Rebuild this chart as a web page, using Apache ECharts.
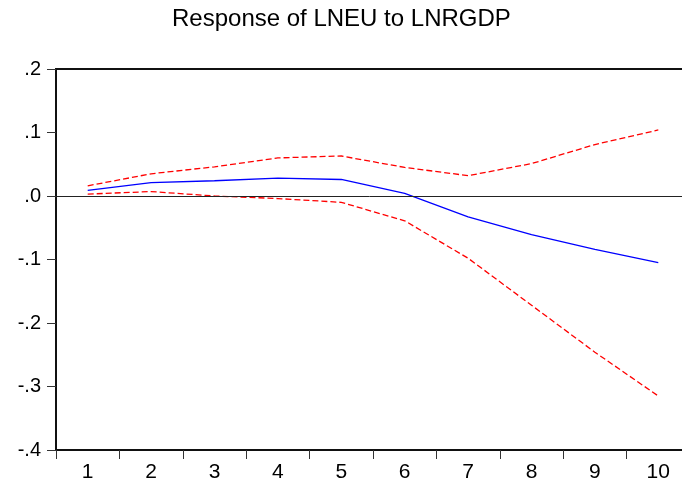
<!DOCTYPE html>
<html>
<head>
<meta charset="utf-8">
<script src="https://cdn.jsdelivr.net/npm/echarts@6/dist/echarts.min.js"></script>
<style>
html,body{margin:0;padding:0;background:#fff;}
#chart{width:682px;height:488px;}
</style>
</head>
<body>
<div id="chart"></div>
<script>
const titleText = "Response of LNEU to LNRGDP";
const periods = ["1","2","3","4","5","6","7","8","9","10"];
const response = [0.009, 0.021, 0.024, 0.028, 0.026, 0.004, -0.033, -0.061, -0.084, -0.105];
const upperBand = [0.016, 0.035, 0.046, 0.060, 0.063, 0.045, 0.032, 0.051, 0.081, 0.104];
const lowerBand = [0.003, 0.007, 0.000, -0.004, -0.010, -0.039, -0.098, -0.172, -0.246, -0.315];
const yMin = -0.4, yMax = 0.2, yStep = 0.1;

const FONT = "'Liberation Sans', Arial, sans-serif";
const chart = echarts.init(document.getElementById('chart'), null, {renderer: 'canvas'});

function fmtY(v) {
  let s = v.toFixed(1);
  if (s === '-0.0') s = '0.0';
  return s.replace('0.', '.');
}

const dashed = {type: [6, 3]};

chart.setOption({
  animation: false,
  backgroundColor: '#ffffff',
  title: {
    text: titleText,
    left: 172,
    top: 7,
    padding: 0,
    textStyle: {fontFamily: FONT, fontSize: 24, fontWeight: 'normal', color: '#000'}
  },
  grid: {
    left: 56, top: 69, width: 634, bottom: 38,
    outerBoundsMode: 'none',
    containLabel: false,
    show: true, borderColor: '#111', borderWidth: 2, backgroundColor: 'transparent'
  },
  xAxis: {
    type: 'category',
    data: periods,
    boundaryGap: true,
    axisLine: {show: true, onZero: false, lineStyle: {color: '#111', width: 2}},
    axisTick: {show: true, length: 9, inside: false, alignWithLabel: false, lineStyle: {color: '#333', width: 1}},
    axisLabel: {fontFamily: FONT, fontSize: 21, color: '#000', margin: 12},
    splitLine: {show: false}
  },
  yAxis: {
    type: 'value',
    min: yMin, max: yMax, interval: yStep,
    axisLine: {show: true, onZero: false, lineStyle: {color: '#111', width: 2}},
    axisTick: {show: true, length: 9, lineStyle: {color: '#333', width: 1}},
    axisLabel: {fontFamily: FONT, fontSize: 20, color: '#000', margin: 15, formatter: fmtY},
    splitLine: {show: false}
  },
  series: [
    {
      name: 'Response', type: 'line', data: response,
      symbol: 'none', lineStyle: {color: '#0000ff', width: 1.3},
      z: 3,
      markLine: {
        silent: true, symbol: 'none', label: {show: false},
        lineStyle: {color: '#222', width: 1, type: 'solid'},
        data: [{yAxis: 0}]
      }
    },
    {
      name: 'Upper', type: 'line', data: upperBand,
      symbol: 'none', lineStyle: Object.assign({color: '#ff0000', width: 1.3}, dashed), z: 2
    },
    {
      name: 'Lower', type: 'line', data: lowerBand,
      symbol: 'none', lineStyle: Object.assign({color: '#ff0000', width: 1.3}, dashed), z: 2
    }
  ]
});
</script>
</body>
</html>
